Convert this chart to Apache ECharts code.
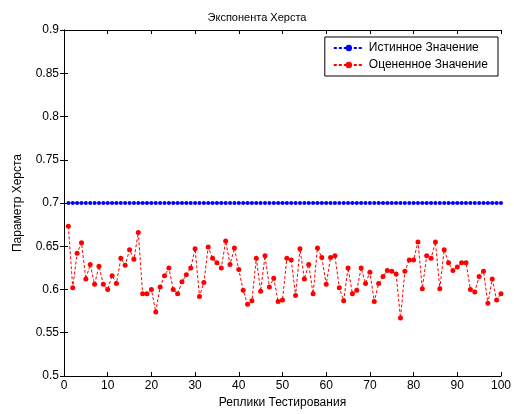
<!DOCTYPE html>
<html><head><meta charset="utf-8">
<script src="https://cdn.jsdelivr.net/npm/echarts@6/dist/echarts.min.js"></script>
<style>html,body{margin:0;padding:0;background:#fff}#c{width:514px;height:414px}</style>
</head><body><div id="c"></div>
<script>
const replicas = Array.from({length:100},(_,i)=>i+1);
const trueValue = 0.7;
const estimated = [
0.673,0.602,0.642,0.654,0.612,0.629,0.606,0.627,0.606,0.600,
0.616,0.607,0.636,0.628,0.646,0.635,0.666,0.595,0.595,0.600,
0.574,0.603,0.616,0.625,0.600,0.595,0.609,0.617,0.625,0.647,
0.592,0.608,0.649,0.636,0.631,0.625,0.656,0.629,0.648,0.623,
0.599,0.583,0.587,0.636,0.598,0.639,0.603,0.613,0.586,0.588,
0.636,0.634,0.593,0.647,0.612,0.629,0.595,0.648,0.637,0.606,
0.637,0.639,0.602,0.587,0.625,0.595,0.599,0.625,0.607,0.620,
0.586,0.607,0.615,0.622,0.621,0.618,0.567,0.621,0.634,0.634,
0.655,0.601,0.639,0.636,0.655,0.601,0.646,0.631,0.622,0.626,
0.631,0.631,0.600,0.597,0.615,0.621,0.584,0.612,0.588,0.595];
const trueSeries = replicas.map(()=>trueValue);
const xTicks = [0,10,20,30,40,50,60,70,80,90,100];
const yTicks = [0.5,0.55,0.6,0.65,0.7,0.75,0.8,0.85,0.9];

const font = 'Liberation Sans, Arial, sans-serif';
const chart = echarts.init(document.getElementById('c'));
const axisCommon = {
  axisLine:{show:true,lineStyle:{color:'#000',width:1}},
  axisTick:{show:true,inside:true,length:4,lineStyle:{color:'#000'}},
  splitLine:{show:false}
};
chart.setOption({
  animation:false,
  backgroundColor:'#fff',
  title:{text:'Экспонента Херста',left:'center',top:7,
    textStyle:{fontFamily:font,fontSize:11,fontWeight:'normal',color:'#000'}},
  grid:{left:64,right:8,top:30,bottom:34},
  legend:{orient:'vertical',right:16,top:37,backgroundColor:'#fff',
    borderColor:'#000',borderWidth:1,borderRadius:0,padding:[5,10,5,8],
    itemGap:5,itemWidth:30,itemHeight:8,
    textStyle:{fontFamily:font,fontSize:12,color:'#000'},
    data:['Истинное Значение','Оцененное Значение']},
  xAxis:[
    Object.assign({type:'value',min:0,max:100,interval:10,position:'bottom',
      name:'Реплики Тестирования',nameLocation:'middle',nameGap:21,
      nameTextStyle:{fontFamily:font,fontSize:12,color:'#000'},
      axisLabel:{fontFamily:font,fontSize:12,color:'#000',margin:4,
        customValues:xTicks}},axisCommon),
    Object.assign({type:'value',min:0,max:100,interval:10,position:'top',
      axisLabel:{show:false}},axisCommon)
  ],
  yAxis:[
    Object.assign({type:'value',min:0.5,max:0.9,interval:0.05,position:'left',
      name:'Параметр Херста',nameLocation:'middle',nameGap:40,
      nameTextStyle:{fontFamily:font,fontSize:12,color:'#000'},
      axisLabel:{fontFamily:font,fontSize:12,color:'#000',margin:5,
        formatter:v=>String(+v.toFixed(2))}},axisCommon),
    Object.assign({type:'value',min:0.5,max:0.9,interval:0.05,position:'right',
      axisLabel:{show:false}},axisCommon)
  ],
  series:[
    {name:'Истинное Значение',type:'line',data:replicas.map((x,i)=>[x,trueSeries[i]]),
      symbol:'circle',symbolSize:4,showAllSymbol:true,
      itemStyle:{color:'#0000ff'},lineStyle:{color:'#0000ff',width:1,type:[3,2]}},
    {name:'Оцененное Значение',type:'line',data:replicas.map((x,i)=>[x,estimated[i]]),
      symbol:'circle',symbolSize:5,showAllSymbol:true,
      itemStyle:{color:'#ff0000'},lineStyle:{color:'#ff0000',width:1,type:[3,2]}}
  ]
});
</script></body></html>
